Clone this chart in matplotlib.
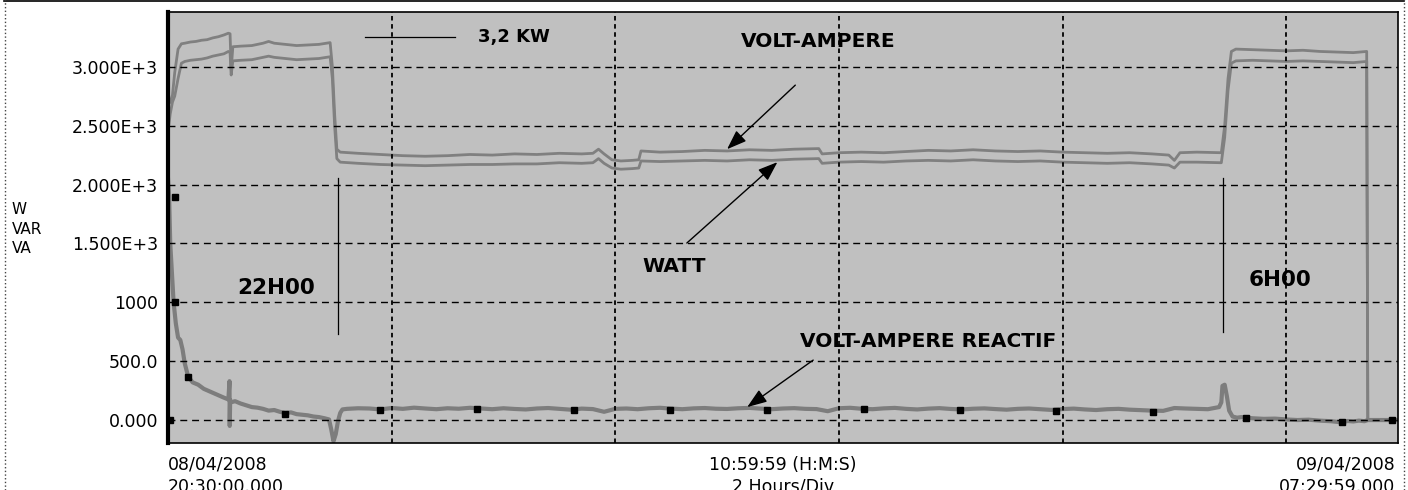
import numpy as np
import matplotlib.pyplot as plt
from matplotlib.lines import Line2D

plt.rcParams["font.family"] = "DejaVu Sans"

# time axis in hours after 08/04/2008 20:30:00
t_pw = [0.0, 0.02, 0.04, 0.06, 0.09, 0.12, 0.15, 0.2, 0.25, 0.3,
        0.35, 0.4, 0.45, 0.5, 0.54, 0.555, 0.565, 0.58, 0.65, 0.75,
        0.85, 0.9, 0.95, 1.05, 1.15, 1.25, 1.35, 1.45, 1.47, 1.49,
        1.51, 1.54, 1.7, 1.9, 2.1, 2.3, 2.5, 2.7, 2.9, 3.1,
        3.3, 3.5, 3.7, 3.8, 3.85, 3.9, 3.97, 4.05, 4.15, 4.21,
        4.23, 4.4, 4.6, 4.8, 5.0, 5.2, 5.4, 5.6, 5.82, 5.85,
        6.0, 6.2, 6.4, 6.6, 6.8, 7.0, 7.2, 7.4, 7.6, 7.8,
        8.0, 8.2, 8.4, 8.6, 8.8, 8.95, 9.0, 9.05, 9.2, 9.42,
        9.45, 9.48, 9.51, 9.55, 9.7, 9.85, 10.0, 10.15, 10.3, 10.45,
        10.6, 10.72, 10.73, 11.0]

# volt-ampere (upper trace)
va = [2680, 2700, 2760, 2950, 3150, 3195, 3200, 3210, 3215, 3225,
      3230, 3245, 3255, 3270, 3285, 3280, 2980, 3170, 3175, 3180,
      3200, 3215, 3200, 3190, 3180, 3185, 3190, 3205, 3000, 2600,
      2300, 2275, 2265, 2255, 2245, 2240, 2245, 2255, 2250, 2260,
      2255, 2265, 2260, 2265, 2300, 2260, 2210, 2200, 2205, 2210,
      2285, 2275, 2280, 2290, 2285, 2295, 2290, 2300, 2305, 2260,
      2270, 2275, 2270, 2280, 2290, 2285, 2295, 2285, 2280, 2285,
      2275, 2270, 2265, 2270, 2260, 2250, 2205, 2270, 2275, 2270,
      2500, 2900, 3130, 3150, 3145, 3140, 3135, 3140, 3130, 3125,
      3120, 3130, 0, 0]

# watt (lower trace)
watt = [2450, 2600, 2700, 2750, 2900, 3030, 3045, 3055, 3060, 3065,
        3075, 3090, 3100, 3110, 3130, 3120, 2930, 3050, 3055, 3060,
        3080, 3090, 3080, 3070, 3060, 3065, 3070, 3085, 2900, 2500,
        2220, 2190, 2180, 2170, 2165, 2160, 2165, 2170, 2170, 2175,
        2175, 2185, 2180, 2185, 2220, 2180, 2140, 2130, 2135, 2140,
        2200, 2195, 2200, 2205, 2200, 2210, 2205, 2215, 2220, 2180,
        2190, 2195, 2190, 2200, 2205, 2200, 2210, 2200, 2195, 2200,
        2190, 2185, 2180, 2185, 2175, 2165, 2140, 2190, 2190, 2185,
        2400, 2800, 3030, 3050, 3055, 3050, 3045, 3050, 3045, 3040,
        3035, 3045, 0, 0]

# volt-ampere reactif
var_t0 = [0.0, 0.01, 0.02, 0.035, 0.05, 0.07, 0.09, 0.11, 0.13, 0.15,
          0.18, 0.22, 0.27, 0.32, 0.38, 0.44, 0.5, 0.54, 0.55, 0.552,
          0.556, 0.56, 0.6, 0.65, 0.7, 0.75, 0.8, 0.85, 0.9, 0.95,
          1.0, 1.05, 1.1, 1.15, 1.2, 1.25, 1.3, 1.35, 1.4, 1.44,
          1.46, 1.48, 1.5, 1.52, 1.54, 1.56]
var_v0 = [2050, 1900, 1500, 1250, 1000, 820, 700, 680, 600, 480,
          370, 320, 300, 265, 240, 215, 190, 175, 330, -50,
          170, 150, 160, 140, 125, 110, 105, 95, 80, 85,
          70, 60, 65, 50, 45, 40, 30, 25, 15, 5,
          -80, -180, -120, -10, 60, 90]
var_t1 = np.round(np.arange(1.6, 9.41, 0.1), 2)   # logger samples
var_v1 = [95, 100, 98, 90, 102, 95, 105, 98, 92, 100,
          96, 104, 98, 92, 100, 94, 90, 98, 102, 95,
          88, 97, 93, 70, 95, 98, 92, 100, 104, 97,
          92, 99, 102, 96, 94, 100, 103, 97, 92, 98,
          101, 95, 93, 75, 100, 104, 96, 92, 99, 103,
          95, 90, 97, 101, 94, 90, 96, 99, 93, 88,
          95, 98, 92, 86, 93, 97, 90, 85, 92, 95,
          88, 84, 80, 78, 102, 98, 95, 92, 110]
var_t2 = [9.42, 9.43, 9.45, 9.47, 9.49, 9.52, 9.56, 9.6, 9.7, 9.8,
          9.9, 10.0, 10.1, 10.2, 10.3, 10.4, 10.5, 10.55, 10.6, 10.65,
          10.7, 10.73, 11.0]
var_v2 = [150, 290, 300, 200, 80, 30, 20, 25, 15, 10,
          12, 5, 0, 3, -5, -10, -20, -8, -12, -5,
          -10, 0, 0]

# cursor marks on the trace
mark_t = [0.02, 0.06, 0.06, 0.18, 1.05, 1.9, 2.76, 3.63, 4.49, 5.36,
          6.22, 7.08, 7.94, 8.81, 9.64, 10.5, 10.95]
mark_v = [0, 1890, 1000, 365, 50, 85, 95, 85, 85, 85,
          95, 85, 80, 70, 15, -20, 0]

yticks = [0, 500, 1000, 1500, 2000, 2500, 3000]
ylabels = ['0.000', '500.0', '1000', '1.500E+3', '2.000E+3', '2.500E+3', '3.000E+3']
xgrid = [2, 4, 6, 8, 10]

var_t = list(var_t0) + list(var_t1) + list(var_t2)
var_v = var_v0 + var_v1 + var_v2

W, H = 1408, 490
fig = plt.figure(figsize=(W / 100, H / 100), dpi=100)
ax = fig.add_axes([168 / W, 1 - 443 / H, (1398 - 168) / W, (443 - 12) / H])
ax.set_facecolor('#c0c0c0')

ax.plot(t_pw, va, color='#808080', lw=2.0, zorder=2)
ax.plot(t_pw, watt, color='#808080', lw=2.0, zorder=2)
ax.plot(var_t, var_v, color='#7d7d7d', lw=3.0, zorder=2)
ax.plot(mark_t, mark_v, 's', color='k', ms=4, zorder=3)

ax.set_xlim(0, 11)
ax.set_ylim(-195, 3465)

# grid drawn on top, like the recorder screen
for v in yticks:
    ax.axhline(v, color='k', lw=1.0, ls=(0, (5, 3.5)), zorder=6)
for t in xgrid:
    ax.axvline(t, color='k', lw=1.3, ls=(0, (2.5, 2)), zorder=6)

ax.set_yticks(yticks)
ax.set_yticklabels(ylabels, fontsize=12.5)
ax.set_xticks([])
ax.tick_params(axis='y', length=0, pad=7)
for s in ['top', 'right', 'bottom']:
    ax.spines[s].set_linewidth(1.2)
ax.spines['left'].set_linewidth(3)

# annotations
bold = dict(fontweight='bold', fontsize=14.5, color='k', zorder=4)
ax.plot([1.76, 2.57], [3250, 3250], color='k', lw=0.9)
ax.text(2.77, 3250, '3,2 KW', va='center', ha='left', fontsize=13, fontweight='bold')
ax.text(5.12, 3217, 'VOLT-AMPERE', va='center', ha='left', **bold)
ax.text(4.24, 1300, 'WATT', va='center', ha='left', **bold)
ax.text(5.65, 671, 'VOLT-AMPERE REACTIF', va='center', ha='left', **bold)
ax.text(0.62, 1120, '22H00', va='center', ha='left', fontsize=15.5, fontweight='bold')
ax.text(9.66, 1188, '6H00', va='center', ha='left', fontsize=15.5, fontweight='bold')
ax.plot([1.52, 1.52], [2054, 730], color='k', lw=0.9)
ax.plot([9.437, 9.437], [2054, 747], color='k', lw=0.9)

arr = dict(arrowstyle='-|>,head_length=0.6,head_width=0.22', color='k', lw=1,
           shrinkA=0, shrinkB=0, mutation_scale=20)
ax.annotate('', xy=(5.0, 2300), xytext=(5.61, 2844), arrowprops=arr)
ax.annotate('', xy=(5.45, 2190), xytext=(4.64, 1503), arrowprops=arr)
ax.annotate('', xy=(5.18, 110), xytext=(5.77, 509), arrowprops=arr)

# axis texts (second line is clipped by the image edge, as in the original)
fig.text(12 / W, 1 - 229 / H, 'W\nVAR\nVA', fontsize=11, ha='left', va='center',
         linespacing=1.35)
ax.text(0.0, -0.03, '08/04/2008\n20:30:00.000', transform=ax.transAxes,
        ha='left', va='top', fontsize=12.5, linespacing=1.27)
ax.text(0.5, -0.03, '10:59:59 (H:M:S)\n2 Hours/Div', transform=ax.transAxes,
        ha='center', va='top', fontsize=12.5, linespacing=1.27)
ax.text(0.998, -0.03, '09/04/2008\n07:29:59.000', transform=ax.transAxes,
        ha='right', va='top', fontsize=12.5, linespacing=1.27, multialignment='right')

# outer frame
fig.add_artist(Line2D([4 / W, 1404 / W], [1 - 1.5 / H, 1 - 1.5 / H], color='k', lw=1.2))
fig.add_artist(Line2D([4.5 / W, 4.5 / W], [0, 1], color='#444444', lw=1, ls=':'))
fig.add_artist(Line2D([1403.5 / W, 1403.5 / W], [0, 1], color='#444444', lw=1, ls=':'))

fig.savefig('out.png', dpi=100)
